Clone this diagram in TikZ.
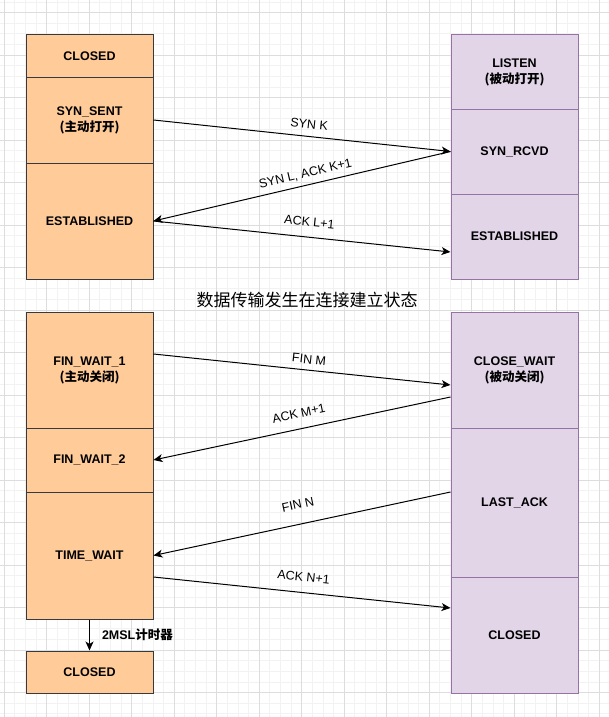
\documentclass[tikz,border=0pt]{standalone}
\usepackage{fontspec}
\setmainfont{Liberation Sans}
\newfontfamily\cjk{Noto Sans CJK SC}
\usetikzlibrary{arrows.meta}

\definecolor{clientfill}{HTML}{FFCC99}
\definecolor{clientline}{HTML}{36393D}
\definecolor{serverfill}{HTML}{E1D5E7}
\definecolor{serverline}{HTML}{9673A6}
\definecolor{gridminor}{HTML}{F2F2F2}
\definecolor{gridmajor}{HTML}{DDDDDD}

\tikzset{
  state/.style={draw, line width=1pt, minimum width=127pt, inner sep=0pt, align=center,
    font=\fontsize{12.5}{16}\selectfont\bfseries},
  client/.style={state, fill=clientfill, draw=clientline},
  server/.style={state, fill=serverfill, draw=serverline},
  msg/.style={sloped, inner sep=1pt, font=\fontsize{12.5}{15}\selectfont},
  flow/.style={line width=1pt, -{Stealth[length=9pt,width=8pt,inset=2.5pt]}},
}

\begin{document}
\begin{tikzpicture}[x=1pt, y=-1pt]
\useasboundingbox (0,0) rectangle (609,717);
% grid
\foreach \k in {0,...,57} \draw[gridminor, line width=1pt] ({4.3+10.625*\k},0) -- ++(0,717);
\foreach \k in {0,...,67} \draw[gridminor, line width=1pt] (0,{2.075+10.625*\k}) -- ++(609,0);
\foreach \k in {0,...,14} \draw[gridmajor, line width=1pt] ({4.3+42.5*\k},0) -- ++(0,717);
\foreach \k in {0,...,16} \draw[gridmajor, line width=1pt] (0,{12.7+42.5*\k}) -- ++(609,0);

% client side
\node[client, minimum height=42pt] (cClosed) at (89.5,56) {CLOSED};
\node[client, minimum height=86pt] (cSent) at (89.5,120) {SYN\_SENT\\{\cjk (主动打开)}};
\node[client, minimum height=116pt] (cEst) at (89.5,221) {ESTABLISHED};
\node[client, minimum height=116pt] (cWait1) at (89.5,370) {FIN\_WAIT\_1\\{\cjk (主动关闭)}};
\node[client, minimum height=64pt] (cWait2) at (89.5,460) {FIN\_WAIT\_2};
\node[client, minimum height=127pt] (cTimeWait) at (89.5,555.5) {TIME\_WAIT};
\node[client, minimum height=42pt] (cClosedEnd) at (89.5,672) {CLOSED};

% server side
\node[server, minimum height=74pt] (sListen) at (514.5,72) {LISTEN\\{\cjk (被动打开)}};
\node[server, minimum height=85pt] (sRcvd) at (514.5,151.5) {SYN\_RCVD};
\node[server, minimum height=85pt] (sEst) at (514.5,236.5) {ESTABLISHED};
\node[server, minimum height=116pt] (sCloseWait) at (514.5,370) {CLOSE\_WAIT\\{\cjk (被动关闭)}};
\node[server, minimum height=149pt] (sLastAck) at (514.5,502.5) {LAST\_ACK};
\node[server, minimum height=116pt] (sClosed) at (514.5,635) {CLOSED};

\node[font=\cjk\fontsize{17}{20}\selectfont] (title) at (307,300) {数据传输发生在连接建立状态};

% handshake
\draw[flow] (cSent.east) -- node[msg, pos=0.52, above=6pt] {SYN K} (sRcvd.west);
\draw[flow] (sRcvd.west) -- node[msg, pos=0.48, above=4.5pt] {SYN L, ACK K+1} (cEst.east);
\draw[flow] (cEst.east) -- node[msg, pos=0.52, above=9pt] {ACK L+1} ([yshift=-15.5pt]sEst.west);

% teardown
\draw[flow] ([yshift=16pt]cWait1.east) -- node[msg, pos=0.52, above=5pt] {FIN M} ([yshift=-15pt]sCloseWait.west);
\draw[flow] ([yshift=-27pt]sCloseWait.west) -- node[msg, pos=0.5, above=9.5pt] {ACK M+1} (cWait2.east);
\draw[flow] ([yshift=10.5pt]sLastAck.west) -- node[msg, pos=0.5, above=14pt] {FIN N} (cTimeWait.east);
\draw[flow] ([yshift=-21.5pt]cTimeWait.east) -- node[msg, pos=0.5, above=9.5pt] {ACK N+1} ([yshift=27pt]sClosed.west);
\draw[flow] (cTimeWait.south) -- node[right=11pt, inner sep=1pt, font=\fontsize{12.5}{15}\selectfont\bfseries] {2MSL{\cjk 计时器}} (cClosedEnd.north);
\end{tikzpicture}
\end{document}
